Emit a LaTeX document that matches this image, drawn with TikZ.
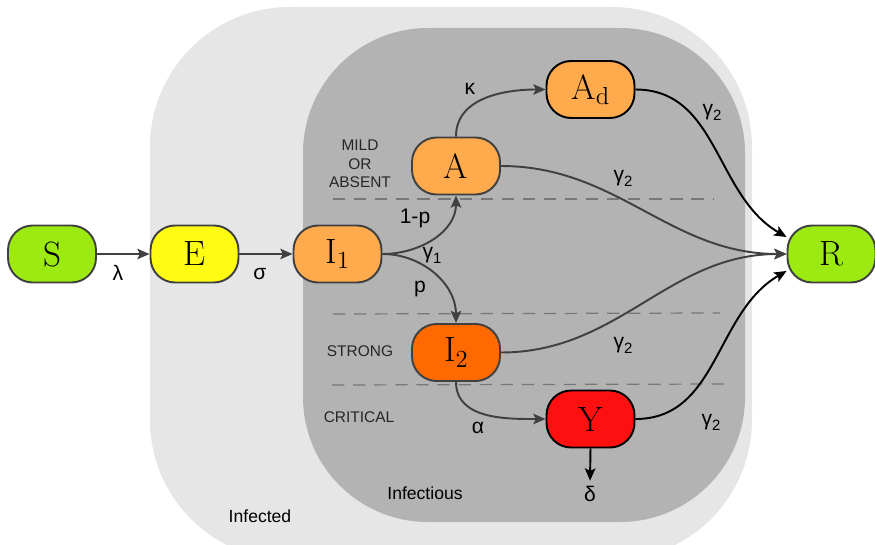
\documentclass[tikz,border=0pt]{standalone}
\usepackage{fontspec}
\setsansfont{Liberation Sans}
\usetikzlibrary{arrows.meta}
\definecolor{bglight}{HTML}{E6E6E6}
\definecolor{bgdark}{HTML}{B3B3B3}
\definecolor{cgreen}{HTML}{9DEA12}
\definecolor{cyellow}{HTML}{FFFC14}
\definecolor{corange}{HTML}{FFAB4D}
\definecolor{cdorange}{HTML}{FF6A00}
\definecolor{cred}{HTML}{FF1010}
\definecolor{edgegray}{HTML}{404040}
\definecolor{dashgray}{HTML}{777777}
\newcommand\gsub[1]{\raisebox{-0.45ex}{\fontsize{8.5}{9}\selectfont #1}}
\newcommand\nsub[1]{\raisebox{-0.35ex}{\fontsize{14}{15}\selectfont #1}}
\begin{document}
\begin{tikzpicture}[x=0.02cm,y=-0.02cm,
  comp/.style={draw=edgegray, line width=1.1pt, rounded corners=14pt,
    minimum width=1.76cm, minimum height=1.14cm, inner sep=0pt,
    font=\fontsize{20}{22}\selectfont},
  compb/.style={comp, draw=black},
  flow/.style={draw=edgegray, line width=1.1pt, -{Stealth[length=7pt,width=6pt,inset=1.5pt]}},
  flowb/.style={flow, draw=black},
  rate/.style={font=\sffamily\fontsize{12}{13}\selectfont, inner sep=0pt},
  region/.style={font=\sffamily\fontsize{8.8}{10}\selectfont, inner sep=0pt, align=center, text=black!85},
  zone/.style={font=\sffamily\fontsize{10}{11}\selectfont, inner sep=0pt},
  divider/.style={draw=dashgray, line width=0.7pt, dash pattern=on 7pt off 5pt}]
\useasboundingbox (0,0) rectangle (875,544);
% backgrounds
\fill[bglight, rounded corners=2.8cm] (150,7) rectangle (752,560);
\fill[bgdark, rounded corners=2.5cm] (303,28) rectangle (745,522);
% dividers
\coordinate (d1a) at (333,199); \coordinate (d1b) at (714,199);
\coordinate (d2a) at (333,314); \coordinate (d2b) at (720,313);
\coordinate (d3a) at (332,385); \coordinate (d3b) at (727,384);
\draw[divider] (d1a) -- (d1b);
\draw[divider] (d2a) -- (d2b);
\draw[divider] (d3a) -- (d3b);
% compartments
\node[comp, fill=cgreen] (S) at (52,254) {S};
\node[comp, fill=cyellow] (E) at (194.5,254) {E};
\node[comp, fill=corange] (I1) at (337.5,254) {I\nsub{1}};
\node[comp, fill=corange] (A) at (456,166) {A};
\node[compb, fill=corange] (Ad) at (590.5,89.5) {A\nsub{d}};
\node[comp, fill=cdorange] (I2) at (456,352.5) {I\nsub{2}};
\node[compb, fill=cred] (Y) at (590.5,419) {Y};
\node[comp, fill=cgreen] (R) at (831.5,254) {R};
% region labels
\node[region] (mild) at (360,164) {MILD\\[0.5pt]OR\\[0.5pt]ABSENT};
\node[region] (strong) at (360,351) {STRONG};
\node[region] (crit) at (359,417) {CRITICAL};
\node[zone] (infs) at (425,493) {Infectious};
\node[zone] (infd) at (260,516) {Infected};
% death label
\node[rate] (delta) at (590,494) {δ};
% flows
\draw[flow] (S) -- (E);
\draw[flow] (E) -- (I1);
\draw[flow] (I1.east) to[out=0,in=-90] (A.south);
\draw[flow] (I1.east) to[out=0,in=90] (I2.north);
\draw[flow] (A.north) to[out=90,in=180] (Ad.west);
\draw[flow] (I2.south) to[out=-90,in=180] (Y.west);
\draw[flow] (A.east) to[out=0,in=180] (R.west);
\draw[flow] (I2.east) to[out=0,in=180] (R.west);
\draw[flowb] (Ad.east) to[out=0,in=150] ([yshift=0.34cm]R.west);
\draw[flowb] (Y.east) to[out=0,in=-150] ([yshift=-0.34cm]R.west);
\draw[flowb] (Y.south) -- ([yshift=3pt]delta.north);
% rate labels
\node[rate] (lam) at (118,273) {λ};
\node[rate] (sig) at (260,274) {σ};
\node[rate] (omp) at (415,218) {1-p};
\node[rate] (g1) at (432,255) {γ\gsub{1}};
\node[rate] (pp) at (420,289) {p};
\node[rate] (kap) at (470,89) {κ};
\node[rate] (gAd) at (712,112) {γ\gsub{2}};
\node[rate] (gA) at (623,178) {γ\gsub{2}};
\node[rate] (gI2) at (623,345) {γ\gsub{2}};
\node[rate] (gY) at (711,422) {γ\gsub{2}};
\node[rate] (alp) at (478,428) {α};
\end{tikzpicture}
\end{document}
